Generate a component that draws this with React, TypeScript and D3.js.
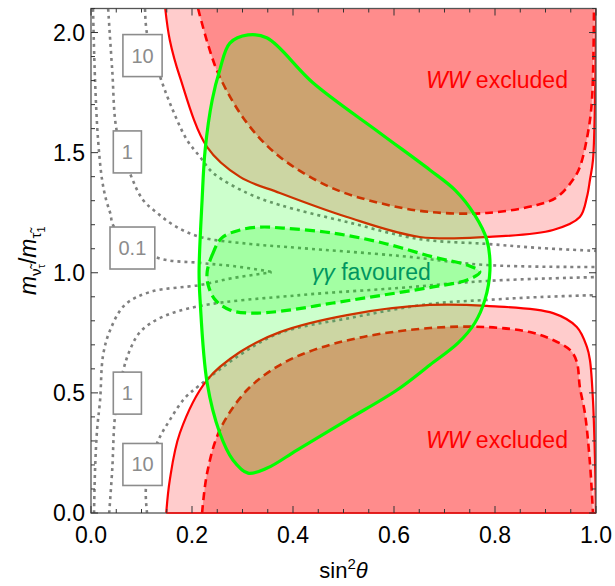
import React from 'react';
import * as d3 from 'd3';

type P = [number, number];

// axis ticks
const xTicksMajor = [0, 0.2, 0.4, 0.6, 0.8, 1.0];
const yTicksMajor = [0, 0.5, 1.0, 1.5, 2.0];

// WW exclusion boundaries (sin^2 theta, mass ratio)
const wwSolidUpper: P[] = [[0.147,2.1],[0.156,1.969],[0.176,1.815],[0.230,1.523],[0.295,1.399],[0.374,1.332],[0.507,1.232],[0.651,1.149],[0.784,1.149],[0.915,1.178],[0.968,1.232],[0.982,1.315],[0.988,1.386],[0.994,1.469],[0.998,1.719],[1.0,2.1]];
const wwSolidLower: P[] = [[0.149,0],[0.156,0.137],[0.176,0.333],[0.230,0.554],[0.295,0.670],[0.374,0.753],[0.507,0.824],[0.671,0.866],[0.784,0.862],[0.915,0.832],[0.962,0.774],[0.982,0.691],[0.988,0.637],[0.994,0.470],[0.998,0.221],[1.0,0]];
const wwDashedUpper: P[] = [[0.212,2.1],[0.232,1.948],[0.255,1.815],[0.309,1.623],[0.374,1.482],[0.473,1.357],[0.572,1.290],[0.671,1.253],[0.784,1.249],[0.883,1.282],[0.923,1.315],[0.954,1.386],[0.968,1.440],[0.984,1.582],[0.992,1.719],[0.996,2.1]];
const wwDashedLower: P[] = [[0.220,0],[0.230,0.167],[0.255,0.345],[0.309,0.512],[0.374,0.616],[0.440,0.678],[0.539,0.733],[0.671,0.770],[0.784,0.774],[0.869,0.753],[0.915,0.720],[0.949,0.678],[0.962,0.629],[0.968,0.524],[0.978,0.416],[0.988,0.208],[0.994,0]];

// gamma gamma regions
const ggSolid: P[] = [[0.214,1.003],[0.220,1.303],[0.226,1.511],[0.240,1.719],[0.255,1.844],[0.275,1.956],[0.311,1.99],[0.349,1.977],[0.440,1.79],[0.572,1.582],[0.671,1.428],[0.721,1.344],[0.760,1.240],[0.784,1.136],[0.790,1.011],[0.780,0.887],[0.760,0.791],[0.727,0.708],[0.671,0.616],[0.606,0.512],[0.507,0.387],[0.408,0.262],[0.349,0.187],[0.311,0.166],[0.281,0.221],[0.255,0.333],[0.230,0.541],[0.216,0.887]];
const ggDashed: P[] = [[0.230,1.003],[0.240,1.074],[0.259,1.145],[0.295,1.178],[0.335,1.19],[0.380,1.186],[0.479,1.165],[0.578,1.124],[0.677,1.066],[0.745,1.032],[0.770,1.003],[0.745,0.970],[0.677,0.941],[0.578,0.907],[0.479,0.874],[0.380,0.841],[0.315,0.832],[0.275,0.845],[0.246,0.887],[0.232,0.949]];

// dotted contours
const c10Upper: P[] = [[0.107,2.098],[0.111,1.994],[0.137,1.815],[0.162,1.677],[0.190,1.553],[0.216,1.482],[0.242,1.415],[0.309,1.332],[0.374,1.282],[0.507,1.211],[0.651,1.140],[0.784,1.120],[0.889,1.103],[1.0,1.091]];
const c1Upper: P[] = [[0.034,2.098],[0.042,1.844],[0.051,1.590],[0.077,1.415],[0.103,1.303],[0.131,1.249],[0.166,1.195],[0.216,1.149],[0.315,1.120],[0.414,1.103],[0.612,1.070],[0.784,1.032],[1.0,1.024]];
const c01Upper: P[] = [[0.004,2.098],[0.008,1.802],[0.014,1.553],[0.022,1.386],[0.030,1.303],[0.038,1.249],[0.046,1.190],[0.127,1.066],[0.216,1.041],[0.281,1.028],[0.358,1.004]];
const c01Lower: P[] = [[0.006,0],[0.008,0.179],[0.012,0.345],[0.018,0.470],[0.024,0.658],[0.038,0.762],[0.067,0.866],[0.117,0.920],[0.216,0.949],[0.281,0.978],[0.358,1.002]];
const c1Lower: P[] = [[0.036,0],[0.042,0.179],[0.048,0.412],[0.063,0.587],[0.077,0.678],[0.097,0.753],[0.137,0.812],[0.216,0.862],[0.414,0.907],[0.612,0.937],[0.784,0.966],[1.0,0.982]];
const c10Lower: P[] = [[0.111,0],[0.109,0.112],[0.131,0.291],[0.156,0.387],[0.186,0.479],[0.216,0.533],[0.295,0.658],[0.374,0.749],[0.513,0.812],[0.671,0.870],[0.784,0.887],[0.889,0.899],[1.0,0.907]];
const contours: P[][] = [c10Upper, c1Upper, c01Upper, c01Lower, c1Lower, c10Lower];

// contour labels
const contourLabels: { s: number; r: number; t: string }[] = [
  { s: 0.102, r: 1.904, t: '10' },
  { s: 0.072, r: 1.503, t: '1' },
  { s: 0.082, r: 1.103, t: '0.1' },
  { s: 0.072, r: 0.499, t: '1' },
  { s: 0.102, r: 0.202, t: '10' },
];

const FONT = '"Liberation Sans", Arial, Helvetica, sans-serif';

export default function App() {
  const x = d3.scaleLinear().domain([0, 1]).range([91, 596]);
  const y = d3.scaleLinear().domain([0, 2.1]).range([513, 8.5]);
  const [x0, x1] = x.range();
  const [y0, y1] = y.range();

  const open = d3.line<P>().x(d => x(d[0])).y(d => y(d[1])).curve(d3.curveCatmullRom.alpha(0.5));
  const closed = d3.line<P>().x(d => x(d[0])).y(d => y(d[1])).curve(d3.curveCatmullRomClosed.alpha(0.5));

  const xMinor = d3.range(0, 1.0001, 0.05);
  const yMinor = d3.range(0, 2.1001, 0.1);

  const textW = (t: string) => t.split('').reduce((a, c) => a + (c === '.' ? 5.6 : 11.1), 0);

  return (
    <svg width={615} height={586} style={{ position: 'fixed', left: 0, top: 0, background: '#fff' }} fontFamily={FONT}>
      <defs>
        <clipPath id="plot">
          <rect x={x0} y={y1} width={x1 - x0} height={y0 - y1} />
        </clipPath>
      </defs>
      <g clipPath="url(#plot)">
        {/* light exclusion */}
        <path d={open(wwSolidUpper) + 'Z'} fill="#ffcccc" />
        <path d={open(wwSolidLower) + 'Z'} fill="#ffcccc" />
        {/* strong exclusion */}
        <path d={open(wwDashedUpper) + 'Z'} fill="#ff8c8c" />
        <path d={open(wwDashedLower) + 'Z'} fill="#ff8c8c" />
        {/* contours */}
        {contours.map((c, i) => (
          <path key={i} d={open(c) || ''} fill="none" stroke="#808080" strokeWidth={2.6} strokeDasharray="3 4" />
        ))}
        {/* red boundaries */}
        <path d={open(wwSolidUpper) || ''} fill="none" stroke="#ff0000" strokeWidth={2.2} />
        <path d={open(wwSolidLower) || ''} fill="none" stroke="#ff0000" strokeWidth={2.2} />
        <path d={open(wwDashedUpper) || ''} fill="none" stroke="#ff0000" strokeWidth={2.6} strokeDasharray="8 5" />
        <path d={open(wwDashedLower) || ''} fill="none" stroke="#ff0000" strokeWidth={2.6} strokeDasharray="8 5" />
        {/* gamma gamma */}
        <path d={closed(ggSolid) || ''} fill="rgb(0,255,0)" fillOpacity={0.2} />
        <path d={closed(ggDashed) || ''} fill="rgb(0,255,0)" fillOpacity={0.2} />
        <path d={closed(ggSolid) || ''} fill="none" stroke="#00ff00" strokeWidth={3.2} />
        <path d={closed(ggDashed) || ''} fill="none" stroke="#00f000" strokeWidth={3.2} strokeDasharray="10 5" />
      </g>

      {/* annotations */}
      <text x={x(0.555)} y={y(0.97)} textAnchor="middle" fontSize={23} fill="rgb(0,150,95)">
        <tspan fontStyle="italic">γγ</tspan> favoured
      </text>
      <text x={x(0.804)} y={y(1.769)} textAnchor="middle" fontSize={23} fill="#ff0000">
        <tspan fontStyle="italic">WW</tspan> excluded
      </text>
      <text x={x(0.804)} y={y(0.27)} textAnchor="middle" fontSize={23} fill="#ff0000">
        <tspan fontStyle="italic">WW</tspan> excluded
      </text>

      {contourLabels.map((l, i) => {
        const w = textW(l.t) + 17;
        const h = 42;
        return (
          <g key={i}>
            <rect x={x(l.s) - w / 2} y={y(l.r) - h / 2} width={w} height={h} fill="#fff" stroke="#8c8c8c" strokeWidth={1.6} />
            <text x={x(l.s)} y={y(l.r) + 7} textAnchor="middle" fontSize={20} fill="#8c8c8c">{l.t}</text>
          </g>
        );
      })}

      {/* frame */}
      <rect x={x0} y={y1} width={x1 - x0} height={y0 - y1} fill="none" stroke="#555" strokeWidth={1.3} />
      <line x1={x(0.149)} x2={x1} y1={y0} y2={y0} stroke="#ff0000" strokeWidth={1.6} />
      {xMinor.map((v, i) => {
        const major = xTicksMajor.some(t => Math.abs(t - v) < 1e-6);
        const L = major ? 7 : 4;
        return (
          <g key={'xm' + i} stroke="#333" strokeWidth={1}>
            <line x1={x(v)} x2={x(v)} y1={y0} y2={y0 - L} />
            <line x1={x(v)} x2={x(v)} y1={y1} y2={y1 + L} />
          </g>
        );
      })}
      {yMinor.map((v, i) => {
        const major = yTicksMajor.some(t => Math.abs(t - v) < 1e-6);
        const L = major ? 7 : 4;
        return (
          <g key={'ym' + i} stroke="#333" strokeWidth={1}>
            <line x1={x0} x2={x0 + L} y1={y(v)} y2={y(v)} />
            <line x1={x1} x2={x1 - L} y1={y(v)} y2={y(v)} />
          </g>
        );
      })}
      {xTicksMajor.map((v, i) => (
        <text key={'xt' + i} x={x(v)} y={543} textAnchor="middle" fontSize={23} fill="#000">{v.toFixed(1)}</text>
      ))}
      {yTicksMajor.map((v, i) => (
        <text key={'yt' + i} x={85} y={y(v) + 8} textAnchor="end" fontSize={23} fill="#000">{v.toFixed(1)}</text>
      ))}

      {/* axis titles */}
      <text x={(x0 + x1) / 2} y={578} textAnchor="middle" fontSize={22} fill="#000">
        sin<tspan dy={-9} fontSize={15}>2</tspan><tspan dy={9} fontStyle="italic">θ</tspan>
      </text>
      <text transform={`translate(36,${(y0 + y1) / 2}) rotate(-90)`} textAnchor="middle" fontSize={23} fill="#000">
        <tspan fontStyle="italic">m</tspan>
        <tspan fontSize={15} dy={5}>ν̃</tspan>
        <tspan fontSize={11} dy={4}>τ</tspan>
        <tspan dy={-9}>/</tspan>
        <tspan fontStyle="italic">m</tspan>
        <tspan fontSize={15} dy={5}>τ̃</tspan>
        <tspan fontSize={11} dy={4}>1</tspan>
      </text>
    </svg>
  );
}
